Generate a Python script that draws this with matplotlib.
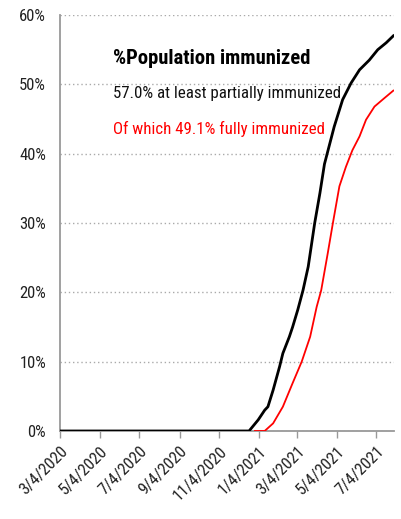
import matplotlib
matplotlib.use('Agg')
import matplotlib.pyplot as plt
from matplotlib.ticker import FuncFormatter
from datetime import datetime

# values (percent of population)
partial_dates = ['2020-03-04', '2020-12-20', '2021-01-03', '2021-01-13', '2021-01-18',
                 '2021-01-26', '2021-02-05', '2021-02-10', '2021-02-20', '2021-02-25',
                 '2021-03-05', '2021-03-13', '2021-03-21', '2021-03-31', '2021-04-08',
                 '2021-04-15', '2021-04-30', '2021-05-13', '2021-05-26', '2021-06-08',
                 '2021-06-23', '2021-07-06', '2021-07-19', '2021-07-30']
partial_pct = [0, 0, 1.6, 3.0, 3.5, 5.9, 9.3, 11.2, 13.6, 15.0,
               17.5, 20.3, 23.7, 30.0, 34.3, 38.5, 43.9, 47.8, 50.2, 52.1,
               53.5, 55.0, 56.0, 57.0]

full_dates = ['2020-12-29', '2021-01-13', '2021-01-26', '2021-02-10', '2021-02-25',
              '2021-03-11', '2021-03-24', '2021-04-03', '2021-04-10', '2021-04-20',
              '2021-04-28', '2021-05-08', '2021-05-18', '2021-05-28', '2021-06-08',
              '2021-06-18', '2021-07-01', '2021-07-16', '2021-07-30']
full_pct = [0, 0, 1.1, 3.5, 6.9, 10.0, 13.6, 17.9, 20.3, 25.6,
            30.0, 35.3, 38.1, 40.5, 42.5, 44.9, 46.8, 48.0, 49.1]

tick_dates = ['2020-03-04', '2020-05-04', '2020-07-04', '2020-09-04', '2020-11-04',
              '2021-01-04', '2021-03-04', '2021-05-04', '2021-07-04']
tick_labels = ['3/4/2020', '5/4/2020', '7/4/2020', '9/4/2020', '11/4/2020',
               '1/4/2021', '3/4/2021', '5/4/2021', '7/4/2021']

title = '%Population immunized'
line1 = '57.0% at least partially immunized'
line2 = 'Of which 49.1% fully immunized'

plt.rcParams['font.family'] = ['Roboto Condensed', 'DejaVu Sans']

to_dt = lambda xs: [datetime.strptime(s, '%Y-%m-%d') for s in xs]

fig = plt.figure(figsize=(4.01, 5.19), dpi=100)
ax = fig.add_axes([0.1496, 0.1696, 0.8329, 0.8014])

ax.plot(to_dt(full_dates), full_pct, color='#ff0000', lw=1.3, zorder=3)
ax.plot(to_dt(partial_dates), partial_pct, color='black', lw=2.0, zorder=4)

ax.set_xlim(datetime(2020, 3, 4), datetime(2021, 7, 31))
ax.set_ylim(0, 60)
ax.set_yticks(range(0, 61, 10))
ax.yaxis.set_major_formatter(FuncFormatter(lambda v, p: f'{int(v)}%'))
ax.set_xticks(to_dt(tick_dates))
ax.set_xticklabels(tick_labels, rotation=45, ha='right', rotation_mode='anchor')

ax.grid(axis='y', color='#aaaaaa', linestyle=(0, (1, 2)), lw=1.0)
ax.set_axisbelow(True)
for s in ['top', 'right']:
    ax.spines[s].set_visible(False)
for s in ['left', 'bottom']:
    ax.spines[s].set_color('#999999')
    ax.spines[s].set_linewidth(1.3)
ax.tick_params(axis='y', length=0, labelsize=12, pad=10, colors='#222222')
ax.tick_params(axis='x', length=5, color='#999999', width=1.0, labelsize=12,
               labelcolor='#222222', pad=4)

ax.text(0.16, 0.895, title, transform=ax.transAxes, fontsize=14.9, fontweight='bold',
        va='center', ha='left')
ax.text(0.16, 0.812, line1, transform=ax.transAxes, fontsize=12.2,
        va='center', ha='left', color='#111111')
ax.text(0.16, 0.726, line2, transform=ax.transAxes, fontsize=12.2,
        va='center', ha='left', color='#ff0000')

fig.savefig('out.png', dpi=100)
